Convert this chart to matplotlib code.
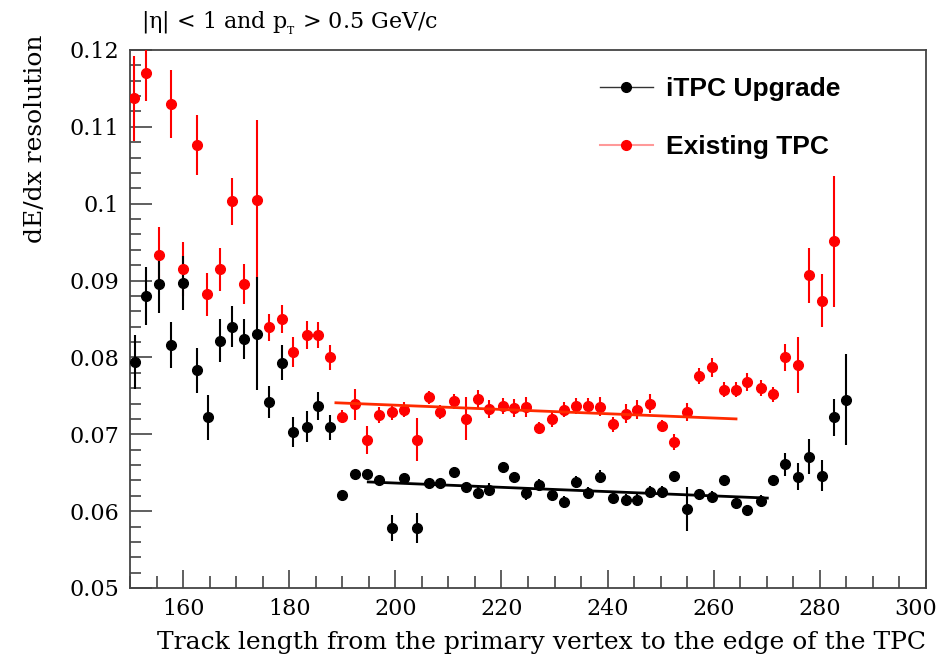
import matplotlib
matplotlib.use("Agg")
import matplotlib.pyplot as plt
import matplotlib.transforms as mtransforms
from matplotlib.lines import Line2D
from matplotlib.ticker import MultipleLocator, FixedLocator

plt.rcParams['font.family'] = ['DejaVu Serif']
plt.rcParams['mathtext.fontset'] = 'dejavuserif'

# ---------------- data ----------------
x_red = [150.8, 153.0, 155.5, 157.7, 160.0, 162.6, 164.6, 167.0, 169.3, 171.5,
         173.9, 176.2, 178.6, 180.8, 183.3, 185.5, 187.7, 190.0, 192.4, 194.7,
         197.0, 199.3, 201.6, 204.0, 206.4, 208.5, 211.0, 213.3, 215.6, 217.7,
         220.2, 222.4, 224.7, 227.1, 229.5, 231.8, 234.0, 236.4, 238.6, 241.1,
         243.4, 245.6, 248.0, 250.2, 252.6, 254.9, 257.2, 259.7, 261.9, 264.2,
         266.3, 268.9, 271.1, 273.4, 275.8, 278.0, 280.4, 282.7]
y_red = [0.1137, 0.1170, 0.0933, 0.1130, 0.0915, 0.1077, 0.0882, 0.0915, 0.1003, 0.0896,
         0.1005, 0.0839, 0.0850, 0.0807, 0.0829, 0.0829, 0.0800, 0.0723, 0.0739, 0.0693,
         0.0725, 0.0729, 0.0732, 0.0693, 0.0748, 0.0729, 0.0743, 0.0720, 0.0746, 0.0733,
         0.0737, 0.0734, 0.0735, 0.0708, 0.0720, 0.0732, 0.0737, 0.0737, 0.0736, 0.0713,
         0.0727, 0.0732, 0.0740, 0.0711, 0.0690, 0.0729, 0.0776, 0.0787, 0.0758, 0.0758,
         0.0768, 0.0760, 0.0752, 0.0800, 0.0790, 0.0907, 0.0874, 0.0951]
err_red = [0.0055, 0.0037, 0.0037, 0.0044, 0.0035, 0.0039, 0.0028, 0.0028, 0.0031, 0.0026,
           0.0104, 0.0018, 0.0018, 0.0019, 0.0018, 0.0017, 0.0016, 0.0008, 0.0020, 0.0018,
           0.0010, 0.0010, 0.0010, 0.0028, 0.0008, 0.0009, 0.0010, 0.0028, 0.0012, 0.0012,
           0.0010, 0.0012, 0.0013, 0.0008, 0.0010, 0.0010, 0.0010, 0.0010, 0.0012, 0.0010,
           0.0012, 0.0012, 0.0012, 0.0008, 0.0010, 0.0012, 0.0010, 0.0012, 0.0010, 0.0010,
           0.0012, 0.0010, 0.0010, 0.0018, 0.0036, 0.0036, 0.0034, 0.0085]

x_black = [150.9, 153.0, 155.5, 157.7, 160.0, 162.6, 164.7, 167.0, 169.3, 171.5,
           173.9, 176.2, 178.6, 180.8, 183.3, 185.5, 187.7, 190.0, 192.4, 194.7,
           197.0, 199.3, 201.6, 204.0, 206.4, 208.5, 211.0, 213.3, 215.6, 217.7,
           220.2, 222.4, 224.7, 227.1, 229.5, 231.8, 234.0, 236.4, 238.6, 241.1,
           243.4, 245.6, 248.0, 250.2, 252.6, 254.9, 257.2, 259.7, 261.9, 264.2,
           266.3, 268.9, 271.1, 273.4, 275.8, 278.0, 280.4, 282.7, 285.0]
y_black = [0.0794, 0.0880, 0.0896, 0.0816, 0.0897, 0.0783, 0.0722, 0.0822, 0.0840, 0.0824,
           0.0831, 0.0742, 0.0793, 0.0703, 0.0710, 0.0737, 0.0709, 0.0621, 0.0648, 0.0648,
           0.0640, 0.0578, 0.0643, 0.0578, 0.0636, 0.0636, 0.0651, 0.0631, 0.0624, 0.0628,
           0.0658, 0.0645, 0.0623, 0.0634, 0.0621, 0.0612, 0.0638, 0.0624, 0.0645, 0.0617,
           0.0615, 0.0615, 0.0625, 0.0625, 0.0646, 0.0603, 0.0622, 0.0619, 0.0640, 0.0611,
           0.0601, 0.0613, 0.0640, 0.0661, 0.0645, 0.0671, 0.0646, 0.0722, 0.0745]
err_black = [0.0035, 0.0038, 0.0038, 0.0030, 0.0035, 0.0029, 0.0029, 0.0028, 0.0027, 0.0026,
             0.0074, 0.0021, 0.0023, 0.0020, 0.0020, 0.0018, 0.0016, 0.0005, 0.0005, 0.0006,
             0.0005, 0.0017, 0.0005, 0.0020, 0.0005, 0.0006, 0.0006, 0.0006, 0.0008, 0.0008,
             0.0006, 0.0006, 0.0008, 0.0008, 0.0007, 0.0008, 0.0008, 0.0007, 0.0008, 0.0007,
             0.0007, 0.0008, 0.0008, 0.0008, 0.0006, 0.0029, 0.0007, 0.0007, 0.0006, 0.0008,
             0.0007, 0.0008, 0.0006, 0.0015, 0.0018, 0.0023, 0.0020, 0.0024, 0.0059]

# linear fits (end points)
fit_red_x = [188.8, 264.2]
fit_red_y = [0.0741, 0.0720]
fit_black_x = [194.9, 270.1]
fit_black_y = [0.0638, 0.0617]

y_ticks = [0.05, 0.06, 0.07, 0.08, 0.09, 0.10, 0.11, 0.12]
y_tick_labels = ["0.05", "0.06", "0.07", "0.08", "0.09", "0.1", "0.11", "0.12"]
x_ticks = [160, 180, 200, 220, 240, 260, 280, 300]

label_black = "iTPC Upgrade"
label_red = "Existing TPC"
title_text = r"|η| < 1 and p$_{_\mathrm{T}}$ > 0.5 GeV/c"
x_title = "Track length from the primary vertex to the edge of the TPC"
y_title = "dE/dx resolution"

# ---------------- figure ----------------
fig = plt.figure(figsize=(9.41, 6.69), dpi=100)
ax = fig.add_axes([130/941, 1-588/669, 796/941, 538/669])

ax.errorbar(x_red, y_red, yerr=err_red, fmt='o', color='#ff0000', ms=7,
            elinewidth=1.5, capsize=0, zorder=3)
ax.errorbar(x_black, y_black, yerr=err_black, fmt='o', color='black', ms=7,
            elinewidth=1.5, capsize=0, zorder=3)
ax.plot(fit_red_x, fit_red_y, color='#ff2a00', lw=2.0, zorder=4)
ax.plot(fit_black_x, fit_black_y, color='black', lw=2.0, zorder=4)

ax.set_xlim(150, 300)
ax.set_ylim(0.05, 0.12)
ax.xaxis.set_major_locator(FixedLocator(x_ticks))
ax.xaxis.set_minor_locator(MultipleLocator(5))
ax.yaxis.set_major_locator(FixedLocator(y_ticks))
ax.set_yticklabels(y_tick_labels)
ax.yaxis.set_minor_locator(MultipleLocator(0.002))
ax.tick_params(axis='both', which='both', direction='in', top=False, right=False,
               labelsize=16, color='#444444')
ax.tick_params(axis='y', which='major', length=16, width=1.2, pad=8)
ax.tick_params(axis='y', which='minor', length=8, width=1.2)
ax.tick_params(axis='x', which='major', length=13, width=1.2, pad=7)
ax.tick_params(axis='x', which='minor', length=9, width=1.2)
for s in ax.spines.values():
    s.set_color('#444444')
    s.set_linewidth(1.3)

# keep the last x tick label inside the canvas (as in the reference)
last_lbl = ax.get_xticklabels()[-1]
last_lbl.set_transform(last_lbl.get_transform() +
                       mtransforms.ScaledTranslation(-10/100, 0, fig.dpi_scale_trans))

ax.set_xlabel(x_title, fontsize=18, loc='right')
ax.xaxis.set_label_coords(1.0, -0.080)
ax.set_ylabel(y_title, fontsize=18, loc='top')
ax.yaxis.set_label_coords(-0.104, 1.028)

fig.text(141/941, 1-29/669, title_text, fontsize=16, ha='left', va='baseline')

h_black = Line2D([], [], color='#333333', lw=1.0, marker='o', ms=7,
                 markerfacecolor='black', markeredgecolor='black')
h_red = Line2D([], [], color=(1, 0, 0, 0.4), lw=1.5, marker='o', ms=7,
               markerfacecolor='red', markeredgecolor='red')
ax.legend([h_black, h_red], [label_black, label_red], loc='upper left',
          bbox_to_anchor=(600/941, 1-77/669), bbox_transform=fig.transFigure,
          frameon=False, borderpad=0, borderaxespad=0, handlelength=2.0,
          handletextpad=0.5, labelspacing=1.3,
          prop={'family': 'Liberation Sans', 'weight': 'bold', 'size': 19})

fig.savefig("out.png", dpi=100)
